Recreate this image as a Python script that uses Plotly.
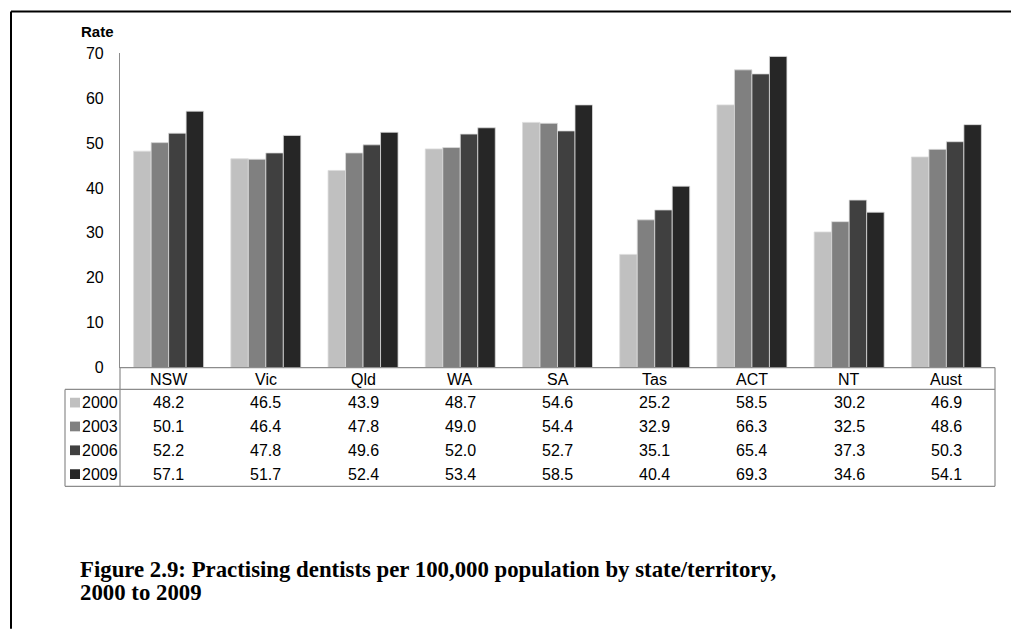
import plotly.graph_objects as go

# Practising dentists per 100,000 population, by state/territory
categories = ["NSW", "Vic", "Qld", "WA", "SA", "Tas", "ACT", "NT", "Aust"]
years = ["2000", "2003", "2006", "2009"]
rate_2000 = [48.2, 46.5, 43.9, 48.7, 54.6, 25.2, 58.5, 30.2, 46.9]
rate_2003 = [50.1, 46.4, 47.8, 49.0, 54.4, 32.9, 66.3, 32.5, 48.6]
rate_2006 = [52.2, 47.8, 49.6, 52.0, 52.7, 35.1, 65.4, 37.3, 50.3]
rate_2009 = [57.1, 51.7, 52.4, 53.4, 58.5, 40.4, 69.3, 34.6, 54.1]
series = [rate_2000, rate_2003, rate_2006, rate_2009]
colors = ["#c0c0c0", "#808080", "#404040", "#262626"]
y_ticks = [0, 10, 20, 30, 40, 50, 60, 70]
caption_lines = [
    "Figure 2.9: Practising dentists per 100,000 population by state/territory,",
    "2000 to 2009",
]

W, H = 1011, 633


def px(x):
    return x / W


def py(y):
    return 1 - y / H


# layout geometry in pixels (measured from the top-left corner)
FRAME = 3.5
LEFT, RIGHT = 120, 995
TOP, BASE = 46.5, 369.5
TABLE_LEFT = 65
HEADER_BOTTOM = 392
TABLE_BOTTOM = 491.5
HEADER_Y = 381.5
ROW_Y = [405.5, 430, 454.5, 479]
TITLE_Y = 24
CAPTION_X = 78
CAPTION_Y = [577, 600.5]
GRID = "#8c8c8c"
FONT = "Liberation Sans, Arial, sans-serif"
TXT = 16

fig = go.Figure()
for name, vals, col in zip(years, series, colors):
    fig.add_trace(go.Bar(
        x=categories, y=vals, name=name,
        marker=dict(color=col, line=dict(color="#dcdcdc", width=0.8)),
        showlegend=False,
    ))

shapes = []
# outer page frame (top and left rules)
shapes.append(dict(type="line", xref="paper", yref="paper",
                   x0=px(11), x1=px(W + 5), y0=py(FRAME), y1=py(FRAME),
                   line=dict(color="black", width=2)))
shapes.append(dict(type="line", xref="paper", yref="paper",
                   x0=px(11), x1=px(11), y0=py(FRAME), y1=py(H + 5),
                   line=dict(color="black", width=2)))
# data table rules
for (x0, y0, x1, y1) in [
    (LEFT, BASE, RIGHT, BASE),
    (TABLE_LEFT, HEADER_BOTTOM, RIGHT, HEADER_BOTTOM),
    (TABLE_LEFT, TABLE_BOTTOM, RIGHT, TABLE_BOTTOM),
    (TABLE_LEFT, HEADER_BOTTOM, TABLE_LEFT, TABLE_BOTTOM),
    (LEFT, BASE, LEFT, TABLE_BOTTOM),
    (RIGHT, BASE, RIGHT, TABLE_BOTTOM),
]:
    shapes.append(dict(type="line", xref="paper", yref="paper",
                       x0=px(x0), x1=px(x1), y0=py(y0), y1=py(y1),
                       line=dict(color=GRID, width=1.2)))
# legend swatches in the table's first column
for ry, col in zip(ROW_Y, colors):
    shapes.append(dict(type="rect", xref="paper", yref="paper",
                       x0=px(70), x1=px(80), y0=py(ry - 5), y1=py(ry + 5),
                       fillcolor=col, line=dict(width=0)))

annotations = []
# category labels in the header row
for c in categories:
    annotations.append(dict(x=c, xref="x", y=py(HEADER_Y), yref="paper",
                            text=c, showarrow=False, xanchor="center",
                            yanchor="middle",
                            font=dict(family=FONT, size=TXT, color="black")))
# values in the table body
for ry, yr, vals in zip(ROW_Y, years, series):
    annotations.append(dict(x=px(80), xref="paper", y=py(ry), yref="paper",
                            text=yr, showarrow=False, xanchor="left",
                            yanchor="middle",
                            font=dict(family=FONT, size=TXT, color="black")))
    for c, v in zip(categories, vals):
        annotations.append(dict(x=c, xref="x", y=py(ry), yref="paper",
                                text=f"{v:.1f}", showarrow=False,
                                xanchor="center", yanchor="middle",
                                font=dict(family=FONT, size=TXT, color="black")))
# axis title
annotations.append(dict(x=px(97), xref="paper", y=py(TITLE_Y), yref="paper",
                        text="<b>Rate</b>", showarrow=False,
                        xanchor="center", yanchor="middle",
                        font=dict(family=FONT, size=15, color="black")))
# figure caption, one annotation per line
for line, cy in zip(caption_lines, CAPTION_Y):
    annotations.append(dict(
        x=px(CAPTION_X), xref="paper", y=py(cy), yref="paper",
        text=f"<b>{line}</b>", showarrow=False,
        xanchor="left", yanchor="middle", align="left",
        font=dict(family="Liberation Serif, serif", size=22.8, color="black")))

fig.update_layout(
    width=W, height=H,
    margin=dict(l=0, r=0, t=0, b=0),
    paper_bgcolor="white", plot_bgcolor="white",
    barmode="group", bargap=0.28, bargroupgap=0,
    shapes=shapes, annotations=annotations,
    xaxis=dict(domain=[px(LEFT), px(RIGHT)], showticklabels=False,
               showline=False, showgrid=False, zeroline=False, ticks=""),
    yaxis=dict(domain=[py(BASE), py(TOP)], range=[0, 70],
               tickvals=y_ticks, showgrid=False, zeroline=False,
               showline=True, linecolor=GRID, linewidth=1.2, ticks="",
               ticklabelstandoff=12,
               tickfont=dict(family=FONT, size=TXT, color="black")),
)

fig.write_html("out.html")
